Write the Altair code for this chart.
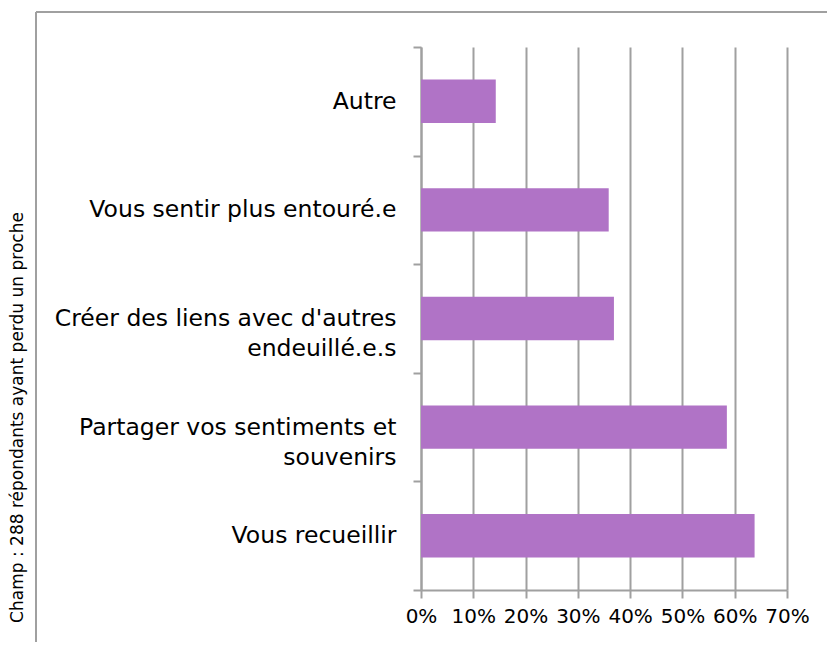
import altair as alt
import pandas as pd

categories = [
    "Autre",
    "Vous sentir plus entouré.e",
    "Créer des liens avec d'autres\nendeuillé.e.s",
    "Partager vos sentiments et\nsouvenirs",
    "Vous recueillir",
]
values = [0.143, 0.359, 0.369, 0.585, 0.638]
x_ticks = [0.0, 0.1, 0.2, 0.3, 0.4, 0.5, 0.6, 0.7]
note = "Champ : 288 répondants ayant perdu un proche"

df = pd.DataFrame({"categorie": categories, "part": values})

GRAY = "#a0a0a0"
BAR = "#b073c6"
FONT = "DejaVu Sans"

bars = alt.Chart(df).mark_bar(color=BAR, height={"band": 0.4}).encode(
    x=alt.X(
        "part:Q",
        scale=alt.Scale(domain=[0, 0.7], nice=False),
        axis=alt.Axis(
            values=x_ticks, format=".0%", grid=True, gridColor=GRAY, gridWidth=2,
            domainColor=GRAY, domainWidth=2, tickColor=GRAY, tickWidth=2, tickSize=8,
            labelPadding=8, labelFontSize=20, labelColor="black", title=None,
            labelOverlap=False, labelFlush=False,
        ),
    ),
    y=alt.Y(
        "categorie:N",
        sort=categories,
        scale=alt.Scale(paddingInner=0, paddingOuter=0),
        axis=alt.Axis(
            title=note, titleAngle=270, titleX=-404, titleY=370,
            titleAlign="center", titleBaseline="middle", titleFontSize=17,
            titleFontWeight="normal", titleColor="black",
            labelExpr="split(datum.label, '\\n')", labelFontSize=23.5,
            labelLineHeight=30, labelAlign="right", labelBaseline="middle",
            labelPadding=17, labelColor="black", labelLimit=0,
            tickBand="extent", tickSize=8, tickColor=GRAY, tickWidth=2,
            domainColor=GRAY, domainWidth=2, grid=False,
        ),
    ),
)

frame_df = pd.DataFrame({"k": [0]})
top_line = alt.Chart(frame_df).mark_rule(color=GRAY, strokeWidth=2).encode(
    x=alt.value(-385), x2=alt.value(406), y=alt.value(-35)
)
left_line = alt.Chart(frame_df).mark_rule(color=GRAY, strokeWidth=2).encode(
    x=alt.value(-385), y=alt.value(-35), y2=alt.value(595)
)

chart = (
    alt.layer(top_line, left_line, bars)
    .properties(
        width=366,
        height=543,
        autosize="none",
        padding={"left": 413, "top": 39, "right": 40, "bottom": 52},
    )
    .configure(font=FONT)
    .configure_axis(labelFont=FONT, titleFont=FONT)
    .configure_view(stroke=None)
)

chart.save("out.html", embed_options={"renderer": "svg", "actions": False})
